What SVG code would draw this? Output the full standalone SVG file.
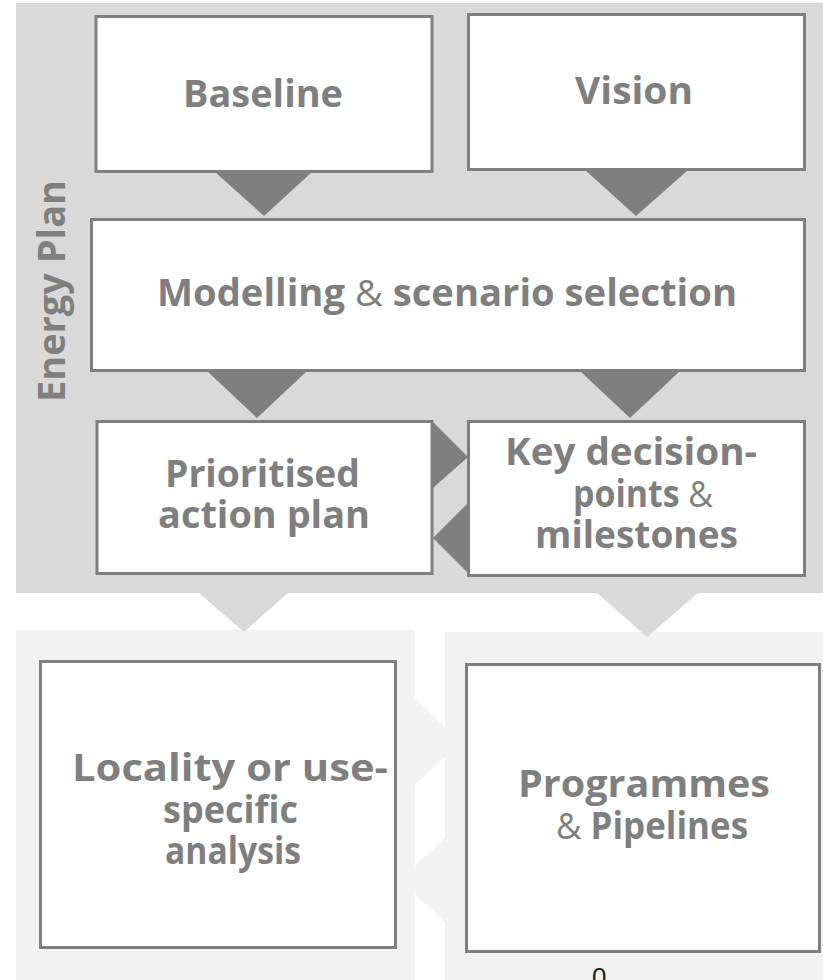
<svg xmlns="http://www.w3.org/2000/svg" width="823" height="980" viewBox="0 0 823 980">
<style>
.bg{fill:#d9d9d9}
.lp{fill:#f2f2f2}
.box{fill:#ffffff;stroke:#7f7f7f;stroke-width:3}
.dk{fill:#7f7f7f}
.lt{fill:#d9d9d9}
.lt2{fill:#f2f2f2}
.t{font-family:"Open Sans",Inter,"Liberation Sans",sans-serif;font-weight:700;font-size:37px;fill:#7f7f7f}
.amp{font-weight:400}
</style>
<rect width="823" height="980" fill="#ffffff"/>
<g id="panels">
<rect class="bg" x="16" y="3" width="807" height="590"/>
<rect class="lp" x="16" y="630" width="399" height="350"/>
<rect class="lp" x="445" y="632" width="378" height="348"/>
</g>
<g id="connectors">
<polygon class="dk" points="215,172 312,172 264,216"/>
<polygon class="dk" points="585,170 688,170 636,216"/>
<polygon class="dk" points="207,371 307,371 257,418"/>
<polygon class="dk" points="580,371 680,371 630,418"/>
<polygon class="dk" points="433,422 468,457 433,488"/>
<polygon class="dk" points="468,503 433,538 468,573"/>
<polygon class="lt" points="199,593 288,593 244,632"/>
<polygon class="lt" points="597,593 698,593 647,637"/>
<polygon class="lt2" points="415,698 460,742 415,785"/>
<polygon class="lt2" points="445,838 400,880 445,922"/>
</g>
<g id="energy-plan-label">
<text class="t" transform="translate(65,402) rotate(-90)" x="0" y="0" font-size="37" textLength="222" lengthAdjust="spacingAndGlyphs">Energy Plan</text>
</g>
<g id="baseline">
<rect class="box" x="96" y="16.5" width="336" height="155"/>
<text class="t" x="183" y="107" textLength="160" lengthAdjust="spacingAndGlyphs">Baseline</text>
</g>
<g id="vision">
<rect class="box" x="468.5" y="14.5" width="336" height="155"/>
<text class="t" x="575" y="104" textLength="118" lengthAdjust="spacingAndGlyphs">Vision</text>
</g>
<g id="modelling">
<rect class="box" x="91.5" y="219.5" width="713" height="151"/>
<text class="t" x="157" y="306" textLength="580" lengthAdjust="spacingAndGlyphs">Modelling <tspan class="amp">&amp;</tspan> scenario selection</text>
</g>
<g id="prioritised">
<rect class="box" x="97" y="421.5" width="335" height="152"/>
<text class="t" x="165" y="487" textLength="195" lengthAdjust="spacingAndGlyphs">Prioritised</text>
<text class="t" x="158" y="528" textLength="212" lengthAdjust="spacingAndGlyphs">action plan</text>
</g>
<g id="key-decision">
<rect class="box" x="468.5" y="421.5" width="336" height="154"/>
<text class="t" x="505" y="465" textLength="252" lengthAdjust="spacingAndGlyphs">Key decision-</text>
<text class="t" x="573" y="507" textLength="140" lengthAdjust="spacingAndGlyphs">points <tspan class="amp">&amp;</tspan></text>
<text class="t" x="535" y="548" textLength="203" lengthAdjust="spacingAndGlyphs">milestones</text>
</g>
<g id="locality">
<rect class="box" x="40.5" y="661.5" width="355" height="286"/>
<text class="t" x="72" y="781" textLength="316" lengthAdjust="spacingAndGlyphs">Locality or use-</text>
<text class="t" x="163" y="823" textLength="135" lengthAdjust="spacingAndGlyphs">specific</text>
<text class="t" x="165" y="864" textLength="136" lengthAdjust="spacingAndGlyphs">analysis</text>
</g>
<g id="programmes">
<rect class="box" x="466.5" y="664.5" width="353" height="287"/>
<text class="t" x="518" y="797" textLength="252" lengthAdjust="spacingAndGlyphs">Programmes</text>
<text class="t" x="556" y="839" textLength="192" lengthAdjust="spacingAndGlyphs"><tspan class="amp">&amp;</tspan> Pipelines</text>
</g>
<text x="592" y="986" font-family="Liberation Sans,Arial,sans-serif" font-size="26" fill="#222222">0</text>
</svg>
